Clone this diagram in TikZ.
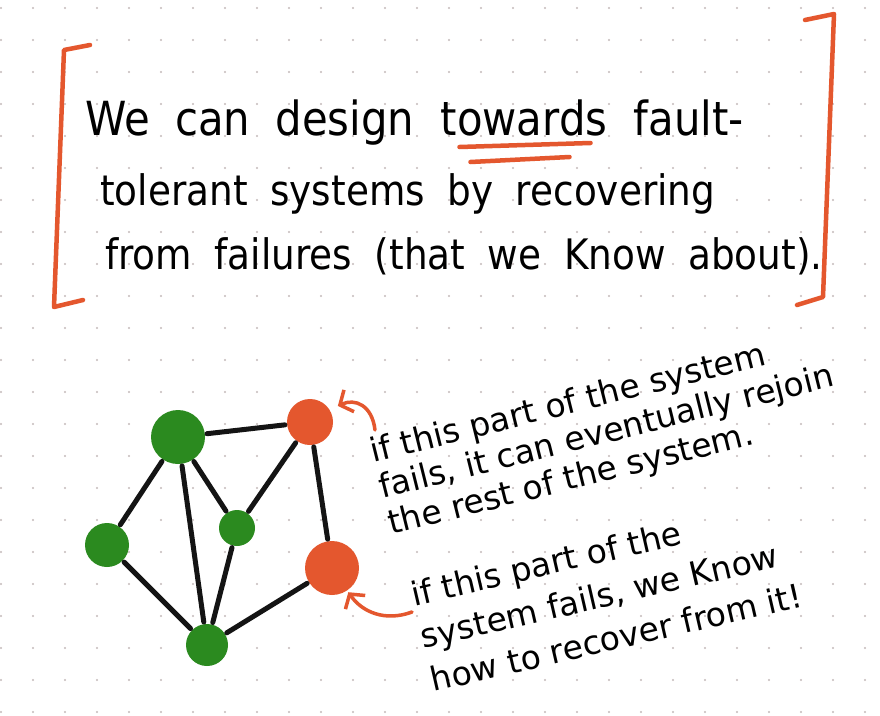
\documentclass[tikz,border=0pt]{standalone}
\usepackage{fontspec}
\setmainfont{DejaVu Sans}
\newfontfamily\headfont[WordSpace=1.9, FakeStretch=0.89]{DejaVu Sans}
\usepackage{xcolor}
\usetikzlibrary{arrows.meta, positioning}

\definecolor{penred}{HTML}{E4572E}
\definecolor{leafgreen}{HTML}{2B8A1F}
\definecolor{dotgray}{HTML}{C4BABA}

\tikzset{
  vertex/.style={circle, inner sep=0pt, minimum size=#1},
  ok/.style={vertex=#1, fill=leafgreen},
  bad/.style={vertex=#1, fill=penred},
  link/.style={line width=5pt, black!92, line cap=round, shorten <=2pt, shorten >=2pt},
  redpen/.style={line width=4.5pt, penred, line cap=round, line join=round},
  hint/.style={line width=3.5pt, penred, line cap=round, -{Straight Barb[length=10pt,width=24pt]}},
  big/.style={font=\headfont\fontsize{#1}{46}\selectfont, inner sep=0pt},
  big/.default=42,
  note/.style 2 args={font=\fontsize{#1}{#2}\selectfont, align=left, inner sep=0pt},
}

\begin{document}
\begin{tikzpicture}[x=1pt, y=-1pt]
  \useasboundingbox (0,0) rectangle (880,715);
  \fill[white] (0,0) rectangle (880,715);
  % dotted paper
  \foreach \i in {0,...,27}
    \foreach \j in {0,...,22}
      \fill[dotgray] (1+32*\i, 8+32*\j) circle (1.1pt);

  % brackets round the headline
  \draw[redpen] (90,45) -- (64,50) -- (54,307) -- (83,300);
  \draw[redpen] (805,20) -- (834,14) -- (823,297) -- (797,305);

  \node[big=47, anchor=base west] (we) at (85,135) {We can design};
  \node[big=47, base right=26pt of we] (tw) {towards};
  \node[big=47, base right=26pt of tw] (fault) {fault-};
  \node[big, anchor=base west] (tol) at (100,205) {tolerant systems by recovering};
  \node[big, anchor=base west] (from) at (105,269) {from failures (that we Know about).};
  \draw[redpen] ([shift={(19pt,-12pt)}]tw.base west) -- ([shift={(-17pt,-8pt)}]tw.base east);
  \draw[redpen] ([shift={(30pt,-27pt)}]tw.base west) -- ([shift={(-38pt,-22pt)}]tw.base east);

  % the system
  \node[ok=54pt] (hub) at (178,437) {};
  \node[bad=46pt] (spare) at (310,422) {};
  \node[ok=44pt] (side) at (107,545) {};
  \node[ok=36pt] (inner) at (237,528) {};
  \node[bad=54pt] (backup) at (332,568) {};
  \node[ok=42pt] (foot) at (207,645) {};
  \foreach \a/\b in {hub/spare, hub/side, hub/foot, hub/inner, spare/inner,
                     spare/backup, side/foot, inner/foot, backup/foot}
    \draw[link] (\a) -- (\b);

  \node[note={33}{37}, rotate=14, anchor=west] (rejoin) at (380,490)
    {if this part of the system\\fails, it can eventually rejoin\\the rest of the system.};
  \node[note={33}{44}, rotate=13, anchor=west] (recover) at (421,637)
    {if this part of the\\system fails, we Know\\how to recover from it!};

  \coordinate (a1) at (375,430);
  \coordinate (a2) at (412,612);
  \draw[hint, shorten >=9pt] (a1) .. controls (372,405) and (355,398) .. (spare.32);
  \draw[hint, shorten >=2pt] (a2) .. controls (385,622) and (362,612) .. (backup.-56);
\end{tikzpicture}
\end{document}
